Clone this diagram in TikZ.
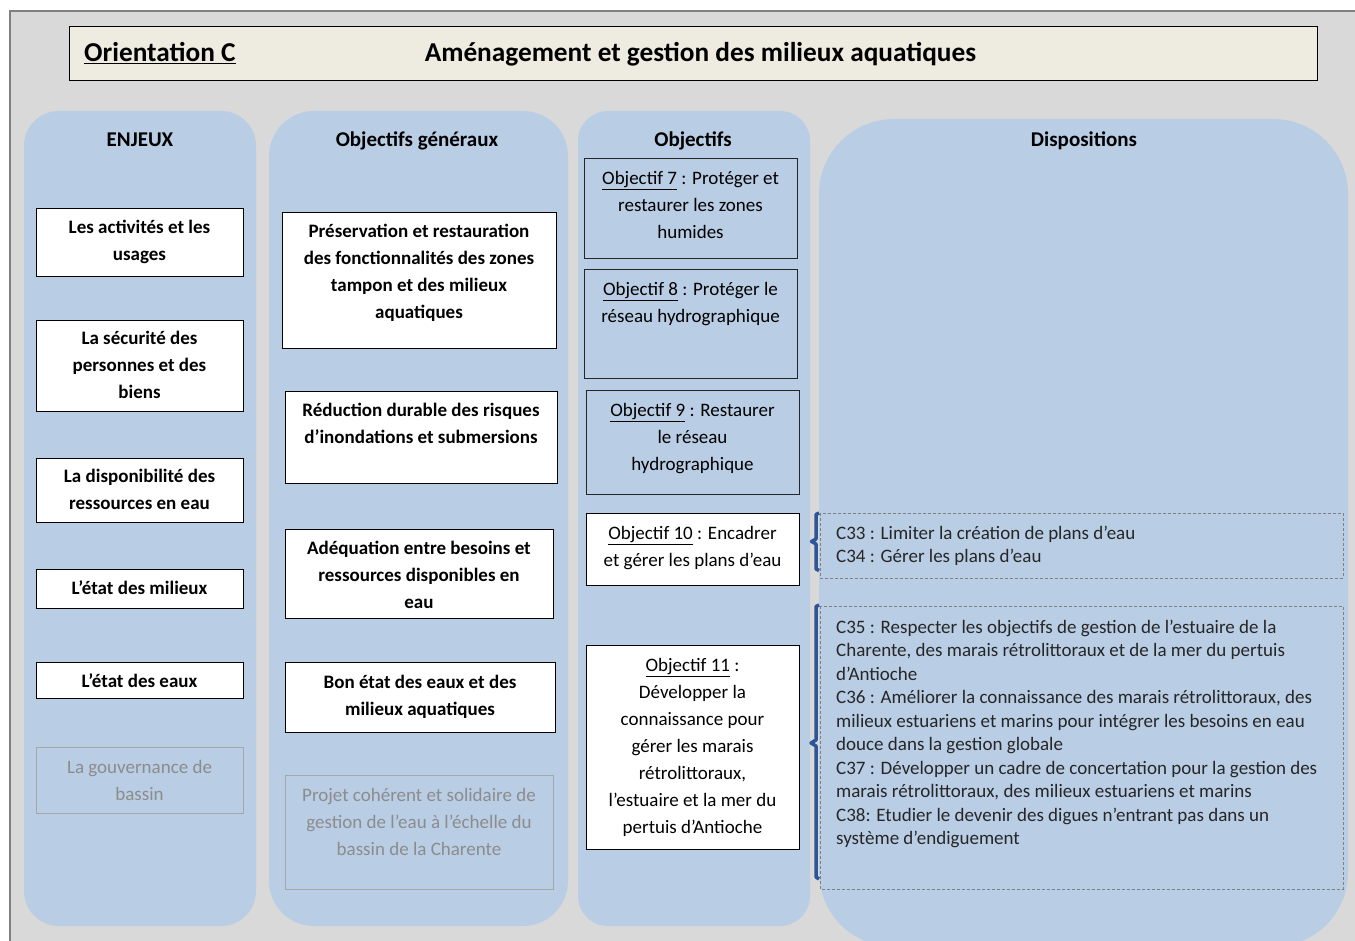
\documentclass[tikz,border=0pt]{standalone}
\usepackage{fontspec}
\setmainfont{Carlito}
\definecolor{bg}{HTML}{D9D9D9}
\definecolor{panel}{HTML}{B9CDE5}
\definecolor{hdr}{HTML}{EEEBE0}
\definecolor{greytxt}{HTML}{8C8C8C}
\definecolor{greybox}{HTML}{A6A6A6}
\definecolor{bracecol}{HTML}{2E5597}
\definecolor{dtext}{HTML}{262626}
\definecolor{frame}{HTML}{808080}
\tikzset{
 panelbox/.style={fill=panel, draw=none},
 wbox/.style={fill=white, draw=black, line width=0.9},
 obox/.style={draw=black!85, line width=0.9},
 gbox/.style={draw=greybox, line width=0.9},
 dbox/.style={draw=gray, dash pattern=on 3pt off 2pt, line width=0.7},
 txt/.style={inner sep=0, align=center, anchor=north, font=\fontsize{19}{27}\selectfont},
 btxt/.style={inner sep=0, align=center, anchor=north, font=\fontsize{19}{27}\selectfont\bfseries},
 gtxt/.style={txt, text=greytxt},
 hd/.style={inner sep=0, anchor=base, font=\fontsize{21}{25}\selectfont\bfseries},
 dtxt/.style={inner sep=0, align=left, anchor=north west, font=\fontsize{19}{23.5}\selectfont, text=dtext},
 bracepath/.style={draw=bracecol, line width=3.5, line join=round},
}
\begin{document}
\begin{tikzpicture}[x=1pt,y=-1pt]
\useasboundingbox (0,0) rectangle (1355,941);
\clip (0,0) rectangle (1355,941);
% outer frame
\path[fill=bg, draw=frame, line width=2] (10,11) rectangle (1368,955);
% header
\path[fill=hdr, draw=black, line width=1] (69,27) rectangle (1317,81);
\node[inner sep=0, anchor=base west, font=\fontsize{27.3}{31}\selectfont\bfseries] (orient) at (84,61.5) {\underline{Orientation C}};
\node[inner sep=0, anchor=base, font=\fontsize{27.3}{31}\selectfont\bfseries] (title) at (700.5,61.5) {Aménagement et gestion des milieux aquatiques};
% panels
\path[panelbox, rounded corners=35] (24,111) rectangle (256,926);
\path[panelbox, rounded corners=45] (269,111) rectangle (568,926);
\path[panelbox, rounded corners=30] (578,111) rectangle (810,926);
\path[panelbox, rounded corners=75] (819,119) rectangle (1348,947);
% column headers
\node[hd] (h1) at (140,147) {ENJEUX};
\node[hd] (h2) at (417,147) {Objectifs généraux};
\node[hd] (h3) at (693,147) {Objectifs};
\node[hd] (h4) at (1084,147) {Dispositions};
% ENJEUX
\path[wbox] (36,208) rectangle (243,276);
\path[wbox] (36,320) rectangle (243,411);
\path[wbox] (36,458) rectangle (243,522);
\path[wbox] (36,569) rectangle (243,608);
\path[wbox] (36,662) rectangle (243,698);
\path[gbox] (36,747) rectangle (243,813);
\node[btxt] (e1) at (139.5,214) {\strut Les activités et les\\usages};
\node[btxt] (e2) at (139.5,325) {\strut La sécurité des\\personnes et des\\biens};
\node[btxt] (e3) at (139.5,463) {\strut La disponibilité des\\ressources en eau};
\node[btxt] (e4) at (139.5,575) {\strut L’état des milieux};
\node[btxt] (e5) at (139.5,668) {\strut L'état des eaux};
\node[gtxt] (e6) at (139.5,754) {\strut La gouvernance de\\bassin};
% Objectifs generaux
\path[wbox] (282,212) rectangle (556,348);
\path[wbox] (285,391) rectangle (557,483);
\path[wbox] (285,529) rectangle (553,618);
\path[wbox] (285,662) rectangle (555,732);
\path[gbox] (285,775) rectangle (553,889);
\node[btxt] (g1) at (419,218) {\strut Préservation et restauration\\des fonctionnalités des zones\\tampon et des milieux\\aquatiques};
\node[btxt] (g2) at (421,397) {\strut Réduction durable des risques\\d’inondations et submersions};
\node[btxt] (g3) at (419,535) {\strut Adéquation entre besoins et\\ressources disponibles en\\eau};
\node[btxt] (g4) at (420,669) {\strut Bon état des eaux et des\\milieux aquatiques};
\node[gtxt] (g5) at (419,782) {\strut Projet cohérent et solidaire de\\gestion de l’eau à l’échelle du\\bassin de la Charente};
% Objectifs
\path[obox] (584,158) rectangle (797,258);
\path[obox] (584,269) rectangle (797,378);
\path[obox] (586,390) rectangle (799,494);
\path[wbox] (586,513) rectangle (799,585);
\path[wbox] (586,645) rectangle (799,849);
\node[txt] (o7) at (690.5,165) {\strut\underline{Objectif 7} : Protéger et\\restaurer les zones\\humides};
\node[txt] (o8) at (690.5,276) {\strut\underline{Objectif 8} : Protéger le\\réseau hydrographique};
\node[txt] (o9) at (692.5,397) {\strut\underline{Objectif 9} : Restaurer\\le réseau\\hydrographique};
\node[txt] (o10) at (692.5,520) {\strut\underline{Objectif 10} : Encadrer\\et gérer les plans d’eau};
\node[txt] (o11) at (692.5,652) {\strut\underline{Objectif 11} :\\Développer la\\connaissance pour\\gérer les marais\\rétrolittoraux,\\l’estuaire et la mer du\\pertuis d’Antioche};
% Dispositions
\path[dbox] (820,513) rectangle (1343,578);
\path[dbox] (820,606) rectangle (1343,889);
\node[dtxt] (d1) at (836,522.5) {\strut C33 : Limiter la création de plans d’eau\\C34 : Gérer les plans d’eau};
\node[dtxt] (d2) at (836,616.5) {\strut C35 : Respecter les objectifs de gestion de l’estuaire de la\\Charente, des marais rétrolittoraux et de la mer du pertuis\\d’Antioche\\C36 : Améliorer la connaissance des marais rétrolittoraux, des\\milieux estuariens et marins pour intégrer les besoins en eau\\douce dans la gestion globale\\C37 : Développer un cadre de concertation pour la gestion des\\marais rétrolittoraux, des milieux estuariens et marins\\C38: Etudier le devenir des digues n’entrant pas dans un\\système d’endiguement};
% braces
\coordinate (b1t) at (819,513);
\coordinate (b1b) at (819,570.5);
\draw[bracepath] (b1t) -- (816,514.5) -- (816,539) -- (811.5,541.5) -- (816,544) -- (816,569) -- (b1b);
\coordinate (b2t) at (819,605);
\coordinate (b2b) at (819,879);
\draw[bracepath] (b2t) -- (816,606.5) -- (816,740) -- (811,743) -- (816,746) -- (816,877) -- (b2b);
\end{tikzpicture}
\end{document}
